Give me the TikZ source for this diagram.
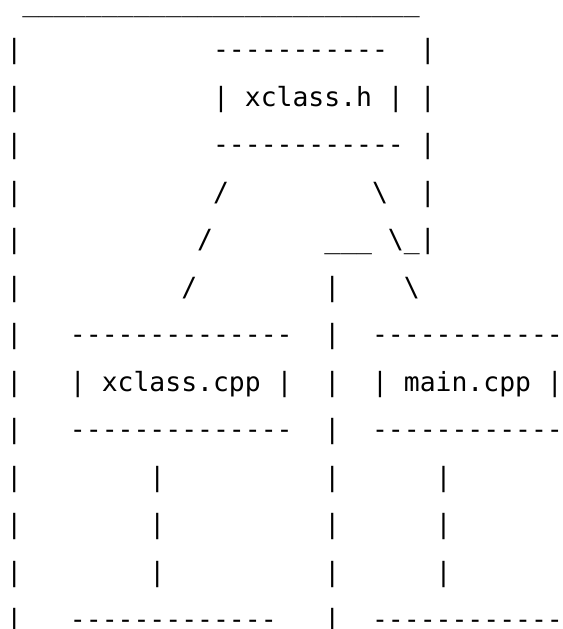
\documentclass[tikz,border=0pt]{standalone}
\usepackage{fontspec}
\newfontfamily\asciifont{DejaVu Sans Mono}
\tikzset{
  seg/.style={anchor=base west, inner sep=0pt, outer sep=0pt,
    font=\asciifont\fontsize{19.81pt}{24pt}\selectfont, text=black}
}
\begin{document}
\begin{tikzpicture}[x=11.925pt, y=-35.625pt]
\useasboundingbox (0,0) rectangle (35.346,13.242);
\fill[white] (0,0) rectangle (35.346,13.242);
\clip (0,0) rectangle (35.346,13.242);
\begin{scope}[shift={(0.3994,0.2337)}]
  % top line
  \node[seg] (topline) at (1,0) {\_\_\_\_\_\_\_\_\_\_\_\_\_\_\_\_\_\_\_\_\_\_\_\_\_};
  % left border
  \foreach \r in {1,...,13} \node[seg] (lb\r) at (0,\r) {|};
  % right border
  \foreach \r in {1,...,4} \node[seg] (rb\r) at (26,\r) {|};
  \node[seg] (rbcorner) at (24,5) {\textbackslash\_|};
  % xclass.h box
  \node[seg] (htop) at (13,1) {-----------};
  \node[seg] (hmid) at (13,2) {| xclass.h |};
  \node[seg] (hbot) at (13,3) {------------};
  % slashes to xclass.cpp
  \node[seg] (sl1) at (13,4) {/};
  \node[seg] (sl2) at (12,5) {/};
  \node[seg] (sl3) at (11,6) {/};
  % backslashes to main.cpp
  \node[seg] (bs1) at (23,4) {\textbackslash};
  \node[seg] (bs3) at (25,6) {\textbackslash};
  % middle branch
  \node[seg] (midbar) at (20,5) {\_\_\_};
  \foreach \r in {6,...,13} \node[seg] (mv\r) at (20,\r) {|};
  % xclass.cpp box
  \node[seg] (ctop) at (4,7) {--------------};
  \node[seg] (cmid) at (4,8) {| xclass.cpp |};
  \node[seg] (cbot) at (4,9) {--------------};
  % main.cpp box
  \node[seg] (mtop) at (23,7) {------------};
  \node[seg] (mmid) at (23,8) {| main.cpp |};
  \node[seg] (mbot) at (23,9) {------------};
  % lower verticals
  \foreach \r in {10,11,12} {
    \node[seg] (cv\r) at (9,\r) {|};
    \node[seg] (mvv\r) at (27,\r) {|};
  }
  % bottom boxes (cut)
  \node[seg] (cnext) at (4,13) {-------------};
  \node[seg] (mnext) at (23,13) {------------};
\end{scope}
\end{tikzpicture}
\end{document}
